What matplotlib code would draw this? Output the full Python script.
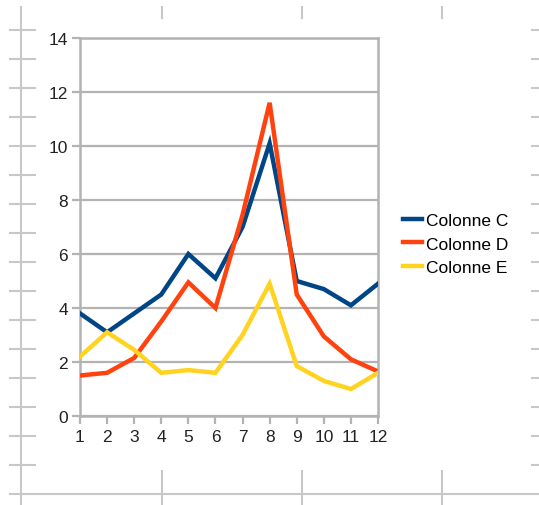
import matplotlib
matplotlib.use("Agg")
import matplotlib.pyplot as plt
from matplotlib.lines import Line2D

months = [1, 2, 3, 4, 5, 6, 7, 8, 9, 10, 11, 12]
col_c = [3.8, 3.1, 3.8, 4.5, 6.0, 5.1, 7.0, 10.1, 5.0, 4.7, 4.1, 4.9]
col_d = [1.5, 1.6, 2.15, 3.5, 4.95, 4.0, 7.45, 11.6, 4.5, 2.95, 2.1, 1.65]
col_e = [2.2, 3.1, 2.45, 1.6, 1.7, 1.6, 3.0, 4.9, 1.85, 1.3, 1.0, 1.6]
series_names = ["Colonne C", "Colonne D", "Colonne E"]
series_colors = ["#004586", "#ff420e", "#ffd320"]
y_ticks = [0, 2, 4, 6, 8, 10, 12, 14]

plt.rcParams["font.family"] = ["Liberation Sans", "DejaVu Sans"]
plt.rcParams["font.size"] = 12.5

W, H = 539, 506
fig = plt.figure(figsize=(W / 100, H / 100), dpi=100)
fig.patch.set_facecolor("white")

# spreadsheet rulers / cell grid in the background
grey = "#c8c8c8"
def px_line(x0, y0, x1, y1):
    fig.add_artist(Line2D([x0 / W, x1 / W], [1 - y0 / H, 1 - y1 / H],
                          color=grey, lw=1.5, transform=fig.transFigure, zorder=0))

px_line(21, 8, 21, 506)
px_line(10, 495, 539, 495)
for k in range(16):
    yy = 31 + 29 * k
    px_line(10, yy, 35, yy)
    px_line(532, yy, 539, yy)
for xx in [162, 302, 442]:
    px_line(xx, 8, xx, 19)
    px_line(xx, 472, xx, 506)

ax = fig.add_axes([80 / W, 1 - 417 / H, 298 / W, 378 / H])
ax.set_facecolor("white")

data = [col_c, col_d, col_e]
for vals, name, color in zip(data, series_names, series_colors):
    ax.plot(months, vals, color=color, lw=3.2, label=name, solid_joinstyle="miter", zorder=3)

ax.set_xlim(1, 12)
ax.set_ylim(0, 14)
ax.set_xticks(months)
ax.set_yticks(y_ticks)
ax.yaxis.grid(True, color="#b3b3b3", lw=1.6)
ax.set_axisbelow(True)
for s in ax.spines.values():
    s.set_color("#b3b3b3")
    s.set_linewidth(1.8)
ax.tick_params(axis="both", colors="#b3b3b3", width=1.6, length=5.5, labelcolor="#222222")
ax.tick_params(axis="y", pad=3)
ax.tick_params(axis="x", pad=4)

fig.legend(loc="center left", bbox_to_anchor=(403 / W, 1 - 245 / H), frameon=False,
           borderpad=0, borderaxespad=0, handlelength=1.1, handletextpad=0.22,
           labelspacing=0.5, fontsize=12.5)

fig.savefig("out.png", dpi=100, facecolor="white")
